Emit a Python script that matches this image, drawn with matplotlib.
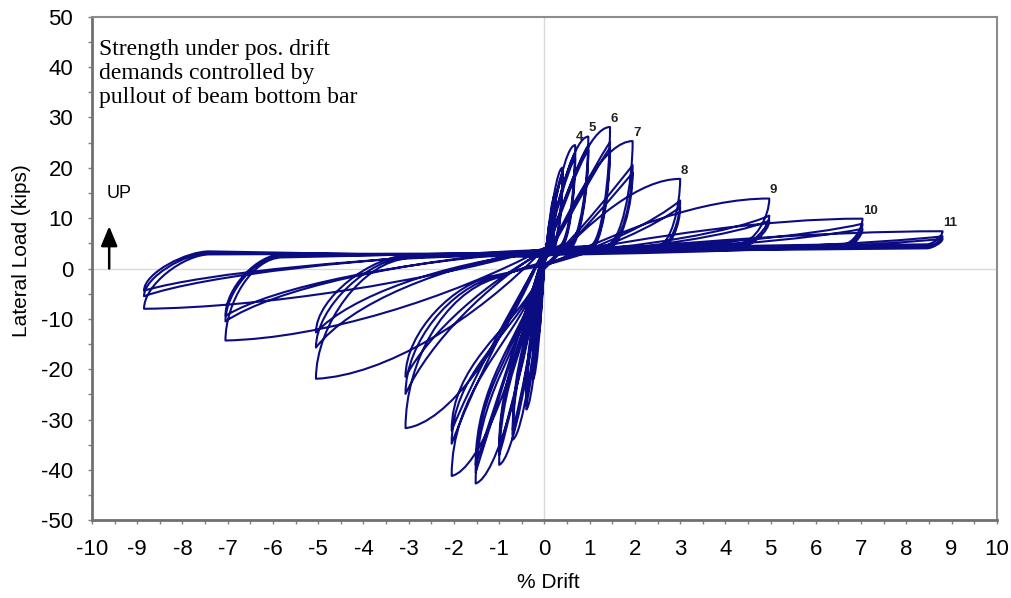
import numpy as np
import matplotlib
matplotlib.use('Agg')
import matplotlib.pyplot as plt
from matplotlib.path import Path
from matplotlib.patches import PathPatch
from matplotlib.ticker import MultipleLocator

# drift levels (% drift) and peak lateral loads (kips), three cycles per level
pos_drift = [0.15, 0.25, 0.40, 0.68, 0.97, 1.45, 1.95, 3.00, 4.97, 7.03, 8.80]
pos_peak = [[10.0, 9.5, 9.0], [15.0, 14.0, 13.5], [20.0, 19.0, 18.5],
            [24.5, 23.0, 22.0], [26.2, 24.5, 23.5], [28.1, 25.1, 24.0],
            [25.3, 20.5, 19.0], [17.8, 13.5, 12.2], [13.9, 10.5, 9.5],
            [9.9, 8.9, 7.9], [7.4, 6.4, 5.9]]
neg_drift = [-0.15, -0.25, -0.40, -0.70, -1.00, -1.52, -2.05, -3.07, -5.05, -7.05, -8.85]
neg_peak = [[-14.0, -13.0, -12.5], [-22.0, -21.0, -20.0], [-28.0, -27.0, -26.0],
            [-34.0, -33.0, -32.0], [-39.0, -37.0, -36.0], [-42.7, -40.5, -39.0],
            [-41.2, -34.8, -32.2], [-31.7, -24.9, -21.5], [-21.9, -15.7, -12.7],
            [-14.3, -10.5, -9.4], [-8.0, -5.5, -4.4]]

# where the steep unloading branches end (drift, load)
pos_release = [0.05, 0.10, 0.16, 0.33, 0.52, 1.00, 1.35, 2.50, 4.30, 6.60, 8.45]
pos_release_load = [3.0, 3.5, 4.0, 4.5, 4.5, 4.5, 4.5, 4.5, 5.0, 4.8, 4.8]
neg_release = [-0.02, -0.04, -0.06, -0.10, -0.12, -0.18, -0.25, -1.10, -3.00, -5.80, -7.40]
neg_release_load = [-1.0, -1.5, -2.0, -3.0, -3.0, -4.0, -4.5, -2.0, 2.0, 2.2, 2.8]
# load when the curve crosses zero drift on its way back
pos_return_load = [2.0, 2.5, 3.0, 3.5, 3.5, 4.0, 4.0, 4.0, 4.0, 4.0, 4.0]
neg_return_load = [1.0, 1.5, 2.0, 2.5, 2.5, 2.0, 0.5, 1.0, 3.0, 3.2, 3.0]

cycle_labels = ['4', '5', '6', '7', '8', '9', '10', '11']
first_labelled = 3

navy = '#0c0c82'
grey = '#808080'
xscale = 9.0  # screen units per % drift relative to per kip


def lerp(a, b, w):
    return tuple((1 - w) * p + w * q for p, q in zip(a, b))


def corner(tip, end, target, frac=0.3):
    # control point before `end` so the curve leaves it heading for `target`
    t = np.array([tip[0] * xscale, tip[1]])
    e = np.array([end[0] * xscale, end[1]])
    z = np.array([target[0] * xscale, target[1]])
    gap = max(abs(z[0] - e[0]), 1e-6)
    s = frac * np.linalg.norm(t - e) / max(np.linalg.norm(z - e), 1e-6)
    s = min(s, 0.6 * abs(t[0] - e[0]) / gap)
    c = e + (e - z) * s
    return (c[0] / xscale, c[1])


def hysteresis_path():
    verts = [(0.0, 0.0)]
    codes = [Path.MOVETO]

    def curve(c1, c2, p):
        verts.extend([c1, c2, p])
        codes.extend([Path.CURVE4] * 3)

    y0 = 0.0
    for i in range(len(pos_drift)):
        dp, dn = pos_drift[i], neg_drift[i]
        up, un = pos_release[i], neg_release[i]
        w = min(1.0, dp / 4.0)
        for k in range(3):
            pp, pn = pos_peak[i][k], neg_peak[i][k]
            yu = pos_release_load[i] - 0.4 * k
            yn = neg_release_load[i] + 0.3 * k
            yr = pos_return_load[i] - 0.3 * k

            # positive loading
            if k == 0:
                a1, a2 = (0.35 * dp, y0 + 0.55 * (pp - y0)), (0.7 * dp, pp)
            else:
                a1 = lerp((0.35 * dp, y0 + 0.5 * (pp - y0)),
                          (0.45 * dp, y0 + 0.15 * (pp - y0)), w)
                a2 = lerp((0.75 * dp, y0 + 0.95 * (pp - y0)),
                          (0.85 * dp, y0 + 0.6 * (pp - y0)), w)
            curve(a1, a2, (dp, pp))
            # positive unloading, then back to zero drift
            zp = (0.0, yr)
            curve((dp, pp - 0.4 * (pp - yu)), corner((dp, pp), (up, yu), zp), (up, yu))
            curve(lerp((up, yu), zp, 0.3), (0.3 * up, yr), zp)

            # negative loading
            y1 = yr
            if k == 0:
                b1, b2 = (0.3 * dn, y1 + 0.55 * (pn - y1)), (0.7 * dn, 0.97 * pn)
            else:
                b1 = lerp((0.3 * dn, y1 + 0.5 * (pn - y1)),
                          (0.45 * dn, y1 + 0.15 * (pn - y1)), w)
                b2 = lerp((0.75 * dn, y1 + 0.92 * (pn - y1)),
                          (0.85 * dn, y1 + 0.55 * (pn - y1)), w)
            curve(b1, b2, (dn, pn))
            # negative unloading, then back to zero drift
            y0 = neg_return_load[i] - 0.3 * k
            zn = (0.0, y0)
            curve((dn, pn + 0.45 * (yn - pn)), corner((dn, pn), (un, yn), zn), (un, yn))
            curve(lerp((un, yn), zn, 0.3), (0.3 * un, y0), zn)
    return Path(verts, codes)


plt.rcParams['font.family'] = ['Liberation Sans', 'DejaVu Sans']
plt.rcParams['axes.unicode_minus'] = False
fig = plt.figure(figsize=(10.11, 5.98), dpi=100)
ax = fig.add_axes([0.091, 0.130, 0.895, 0.842])

ax.axhline(0, color='#d9d9d9', lw=1.0, zorder=0)
ax.axvline(0, color='#d9d9d9', lw=1.0, zorder=0)

ax.add_patch(PathPatch(hysteresis_path(), facecolor='none', edgecolor=navy,
                       lw=1.5, capstyle='round', joinstyle='round', zorder=2))

for n, lab in enumerate(cycle_labels):
    i = first_labelled + n
    ax.annotate(lab, (pos_drift[i], pos_peak[i][0]), xytext=(0.5, 1.5),
                textcoords='offset points', ha='left', va='bottom',
                fontsize=9.5, fontweight='bold', color='#222222')

ax.set_xlim(-10, 10)
ax.set_ylim(-50, 50)
ax.xaxis.set_major_locator(MultipleLocator(1))
ax.xaxis.set_minor_locator(MultipleLocator(0.5))
ax.yaxis.set_major_locator(MultipleLocator(10))
ax.yaxis.set_minor_locator(MultipleLocator(5))
ax.tick_params(which='both', direction='out', color=grey, labelsize=16,
               length=3, width=1.0, pad=10.5)
for side in ['left', 'bottom']:
    ax.spines[side].set_color('#707070')
    ax.spines[side].set_linewidth(2.0)
for side in ['top', 'right']:
    ax.spines[side].set_color('#8c8c8c')
    ax.spines[side].set_linewidth(1.5)

ax.set_xlabel('% Drift', fontsize=15)
ax.set_ylabel('Lateral Load (kips)', fontsize=15)
ax.xaxis.set_label_coords(0.504, -0.104)
ax.yaxis.set_label_coords(-0.067, 0.535)

ax.text(-9.85, 45.6, 'Strength under pos. drift\ndemands controlled by\npullout of beam bottom bar',
        family=['Liberation Serif', 'DejaVu Serif'], fontsize=17, va='top',
        ha='left', linespacing=1.2)

ax.text(-9.4, 14.9, 'UP', fontsize=13, ha='center', va='center')
ax.annotate('', xy=(-9.62, 8.4), xytext=(-9.62, 0.0),
            arrowprops=dict(arrowstyle='-|>,head_width=0.5,head_length=1.2',
                            color='black', lw=1.8, shrinkA=0, shrinkB=0))

fig.savefig('out.png', dpi=100)
